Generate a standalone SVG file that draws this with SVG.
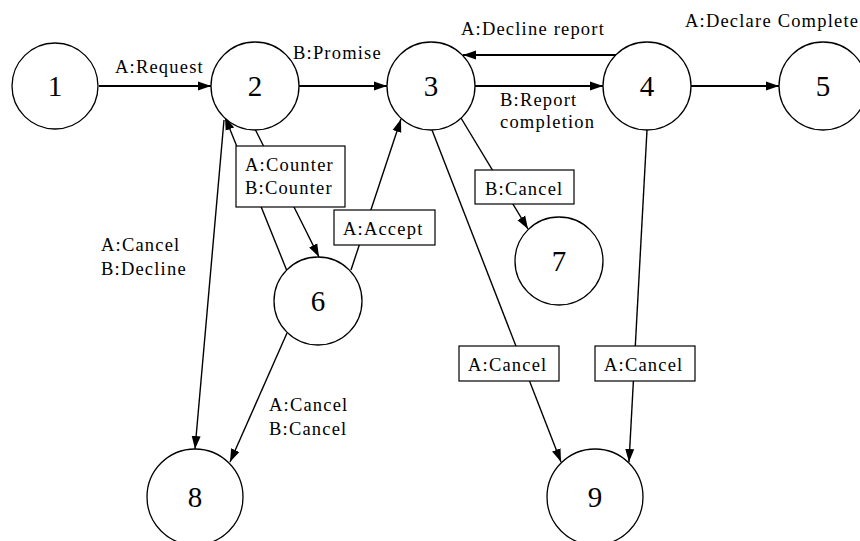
<svg xmlns="http://www.w3.org/2000/svg" width="860" height="541" viewBox="0 0 860 541">
<defs>
<marker id="ah" markerUnits="userSpaceOnUse" markerWidth="14" markerHeight="10" refX="13" refY="5" orient="auto">
<path d="M0,0.5 L13,5 L0,9.5 Z" fill="#000"/>
</marker>
<style>
.n circle{fill:#fff;stroke:#000;stroke-width:1.3}
.n text{font-family:"Liberation Serif","Times New Roman",serif;font-size:29px;text-anchor:middle;fill:#000}
.e line{stroke:#000;stroke-width:1.4;fill:none}
.e .h{stroke-width:2}
.lbl{font-family:"Liberation Serif","Times New Roman",serif;font-size:18.5px;letter-spacing:1.2px;fill:#000}
.box{fill:#fff;stroke:#000;stroke-width:1.2}
</style>
</defs>
<rect width="860" height="541" fill="#fff"/>
<g id="connectors" class="e">
<line class="h" x1="99" y1="86" x2="211" y2="86" marker-end="url(#ah)"/>
<line class="h" x1="299" y1="86" x2="387" y2="86" marker-end="url(#ah)"/>
<line class="h" x1="475" y1="86" x2="603" y2="86" marker-end="url(#ah)"/>
<line class="h" x1="617" y1="55" x2="463" y2="55" marker-end="url(#ah)"/>
<line class="h" x1="691" y1="86" x2="779" y2="86" marker-end="url(#ah)"/>
<line x1="255" y1="129" x2="319" y2="257" marker-end="url(#ah)"/>
<line x1="287" y1="271" x2="225" y2="117" marker-end="url(#ah)"/>
<line x1="351" y1="270" x2="401" y2="119" marker-end="url(#ah)"/>
<line x1="224" y1="120" x2="195" y2="449" marker-end="url(#ah)"/>
<line x1="287" y1="333" x2="230" y2="462" marker-end="url(#ah)"/>
<line x1="461" y1="118" x2="528" y2="229" marker-end="url(#ah)"/>
<line x1="432" y1="130" x2="561" y2="462" marker-end="url(#ah)"/>
<line x1="647" y1="130" x2="629" y2="462" marker-end="url(#ah)"/>
</g>
<g id="labels">
<text class="lbl" x="115" y="73">A:Request</text>
<text class="lbl" x="293" y="59">B:Promise</text>
<text class="lbl" x="461" y="35">A:Decline report</text>
<text class="lbl" x="685" y="27">A:Declare Complete</text>
<text class="lbl" x="500" y="106">B:Report</text>
<text class="lbl" x="500" y="128">completion</text>
<text class="lbl" x="101" y="251">A:Cancel</text>
<text class="lbl" x="101" y="275">B:Decline</text>
<text class="lbl" x="269" y="411">A:Cancel</text>
<text class="lbl" x="269" y="435">B:Cancel</text>
<g id="lbl-counter">
<rect class="box" x="236" y="146" width="109" height="61"/>
<text class="lbl" x="245" y="171">A:Counter</text>
<text class="lbl" x="245" y="194">B:Counter</text>
</g>
<g id="lbl-accept">
<rect class="box" x="334" y="210" width="101" height="35"/>
<text class="lbl" x="343" y="235">A:Accept</text>
</g>
<g id="lbl-bcancel">
<rect class="box" x="475" y="170" width="99" height="34"/>
<text class="lbl" x="485" y="195">B:Cancel</text>
</g>
<g id="lbl-acancel1">
<rect class="box" x="459" y="346" width="100" height="35"/>
<text class="lbl" x="468" y="371">A:Cancel</text>
</g>
<g id="lbl-acancel2">
<rect class="box" x="595" y="346" width="100" height="35"/>
<text class="lbl" x="604" y="371">A:Cancel</text>
</g>
</g>
<g id="n1" class="n"><circle cx="55" cy="86" r="43"/><text x="55" y="96">1</text></g>
<g id="n2" class="n"><circle cx="255" cy="86" r="44"/><text x="255" y="96">2</text></g>
<g id="n3" class="n"><circle cx="431" cy="86" r="44"/><text x="431" y="96">3</text></g>
<g id="n4" class="n"><circle cx="647" cy="86" r="44"/><text x="647" y="96">4</text></g>
<g id="n5" class="n"><circle cx="823" cy="86" r="44"/><text x="823" y="96">5</text></g>
<g id="n6" class="n"><circle cx="318" cy="301" r="44"/><text x="318" y="311">6</text></g>
<g id="n7" class="n"><circle cx="559" cy="261" r="44"/><text x="559" y="271">7</text></g>
<g id="n8" class="n"><circle cx="195" cy="497" r="48"/><text x="195" y="507">8</text></g>
<g id="n9" class="n"><circle cx="595" cy="497" r="48"/><text x="595" y="507">9</text></g>
</svg>
